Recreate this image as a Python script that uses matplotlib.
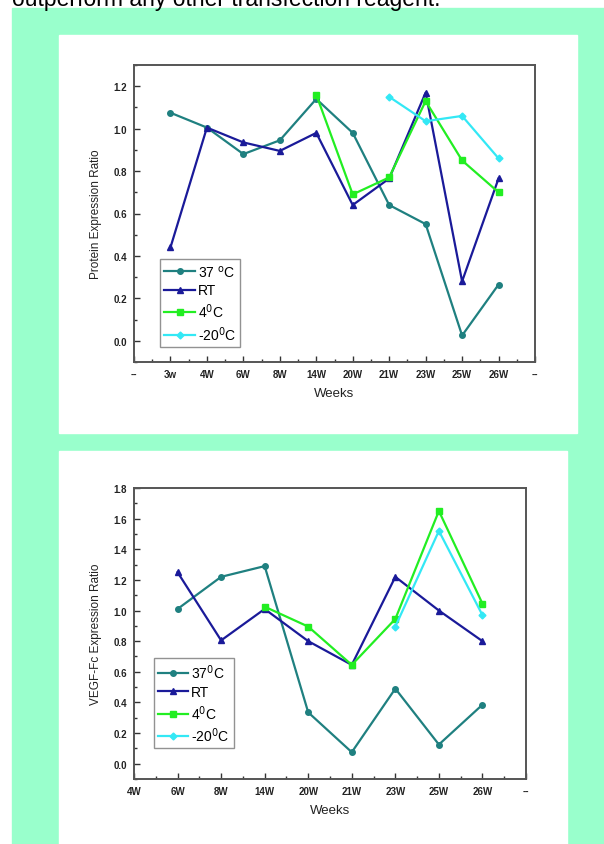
import matplotlib
matplotlib.use("Agg")
import matplotlib.pyplot as plt
from matplotlib.patches import Rectangle
from matplotlib.ticker import MultipleLocator, FixedLocator
import numpy as np

plt.rcParams['font.family'] = ['Liberation Sans', 'DejaVu Sans']

# ---- data: top chart (protein expression) ----
top_labels = ['--', '3w', '4W', '6W', '8W', '14W', '20W', '21W', '23W', '25W', '26W', '--']
top_37 = [1.075, 1.005, 0.88, 0.945, 1.14, 0.98, 0.64, 0.55, 0.025, 0.265]
top_rt = [0.44, 1.005, 0.935, 0.895, 0.98, 0.64, 0.765, 1.17, 0.28, 0.765]
top_4 = [1.16, 0.69, 0.77, 1.13, 0.85, 0.70]       # 14W .. 26W
top_m20 = [1.15, 1.035, 1.06, 0.86]                 # 21W .. 26W

# ---- data: bottom chart (VEGF-Fc expression) ----
bot_labels = ['4W', '6W', '8W', '14W', '20W', '21W', '23W', '25W', '26W', '--']
bot_37 = [1.01, 1.22, 1.29, 0.335, 0.075, 0.49, 0.125, 0.385]
bot_rt = [1.25, 0.805, 1.01, 0.80, 0.645, 1.22, 1.00, 0.80]
bot_4 = [1.025, 0.895, 0.645, 0.945, 1.65, 1.045]   # 14W .. 26W
bot_m20 = [0.895, 1.52, 0.97]                        # 23W .. 26W

c37 = '#1f8080'
crt = '#1a1a99'
c4 = '#22ee22'
cm20 = '#33e8f5'
green_bg = '#99ffcc'

W, H = 604, 845
fig = plt.figure(figsize=(W / 100, H / 100), dpi=100)

def box(x0, y0, x1, y1):
    # pixel box (from top-left) -> figure fraction
    return [x0 / W, 1 - y1 / H, (x1 - x0) / W, (y1 - y0) / H]

b = box(12, 9, 604, 845)
fig.patches.append(Rectangle((b[0], b[1]), b[2], b[3], transform=fig.transFigure,
                             color=green_bg, zorder=-3))
for pb in [box(59, 36, 577, 434), box(59, 452, 567, 845)]:
    fig.patches.append(Rectangle((pb[0], pb[1]), pb[2], pb[3], transform=fig.transFigure,
                                 color='white', zorder=-2))

fig.text(12 / W, 1 - 6 / H, 'outperform any other transfection reagent.',
         fontsize=16.5, va='baseline', ha='left', color='black')


def style(ax, labels, ylim, ymajor, yticks_max):
    ax.set_xlim(0, len(labels) - 1)
    ax.set_ylim(*ylim)
    ax.xaxis.set_major_locator(FixedLocator(range(len(labels))))
    ax.set_xticklabels(labels, fontsize=7, fontweight='bold', color='#222222')
    ax.xaxis.set_minor_locator(MultipleLocator(0.5))
    ax.set_yticks(np.arange(0, yticks_max + 0.01, ymajor))
    ax.set_yticklabels(['%.1f' % v for v in np.arange(0, yticks_max + 0.01, ymajor)],
                       fontsize=7, fontweight='bold', color='#222222')
    ax.yaxis.set_minor_locator(MultipleLocator(ymajor / 2))
    ax.tick_params(which='both', direction='in', top=False, right=False, color='#333333')
    ax.tick_params(which='major', length=4, width=1, pad=5)
    ax.tick_params(which='minor', length=2, width=1)
    for s in ax.spines.values():
        s.set_color('#555555')
        s.set_linewidth(1.4)
    ax.set_xlabel('Weeks', fontsize=9.5, color='#222222', labelpad=6)


lw = 1.6
ms = 4

# ---- top chart ----
ax1 = fig.add_axes(box(134, 66, 535, 363))
x = np.arange(1, 11)
ax1.plot(x, top_37, '-o', color=c37, lw=lw, ms=ms, label='37 $^{\\rm o}$C')
ax1.plot(x, top_rt, '-^', color=crt, lw=lw, ms=ms + 1, label='RT')
ax1.plot(x[4:], top_4, '-s', color=c4, lw=lw, ms=ms, label='4$^{\\rm 0}$C')
ax1.plot(x[6:], top_m20, '-D', color=cm20, lw=lw, ms=ms - 0.5, label='-20$^{\\rm 0}$C')
style(ax1, top_labels, (-0.1, 1.3), 0.2, 1.2)
ax1.set_ylabel('Protein Expression Ratio', fontsize=8.5, color='#222222', labelpad=8)
leg = ax1.legend(loc='lower left', bbox_to_anchor=(0.065, 0.05), fontsize=10,
                 frameon=True, fancybox=False, edgecolor='#777777',
                 handlelength=2.2, handletextpad=0.2, borderpad=0.3, labelspacing=0.3,
                 borderaxespad=0)
leg.get_frame().set_linewidth(1)

# ---- bottom chart ----
ax2 = fig.add_axes(box(134, 489, 526, 780))
x2 = np.arange(1, 9)
ax2.plot(x2, bot_37, '-o', color=c37, lw=lw, ms=ms, label='37$^{\\rm 0}$C')
ax2.plot(x2, bot_rt, '-^', color=crt, lw=lw, ms=ms + 1, label='RT')
ax2.plot(x2[2:], bot_4, '-s', color=c4, lw=lw, ms=ms, label='4$^{\\rm 0}$C')
ax2.plot(x2[5:], bot_m20, '-D', color=cm20, lw=lw, ms=ms - 0.5, label='-20$^{\\rm 0}$C')
style(ax2, bot_labels, (-0.1, 1.8), 0.2, 1.8)
ax2.set_ylabel('VEGF-Fc Expression Ratio', fontsize=8.5, color='#222222', labelpad=8)
leg2 = ax2.legend(loc='lower left', bbox_to_anchor=(0.05, 0.105), fontsize=10,
                  frameon=True, fancybox=False, edgecolor='#777777',
                  handlelength=2.2, handletextpad=0.2, borderpad=0.3, labelspacing=0.3,
                  borderaxespad=0)
leg2.get_frame().set_linewidth(1)

fig.savefig('out.png', dpi=100)
